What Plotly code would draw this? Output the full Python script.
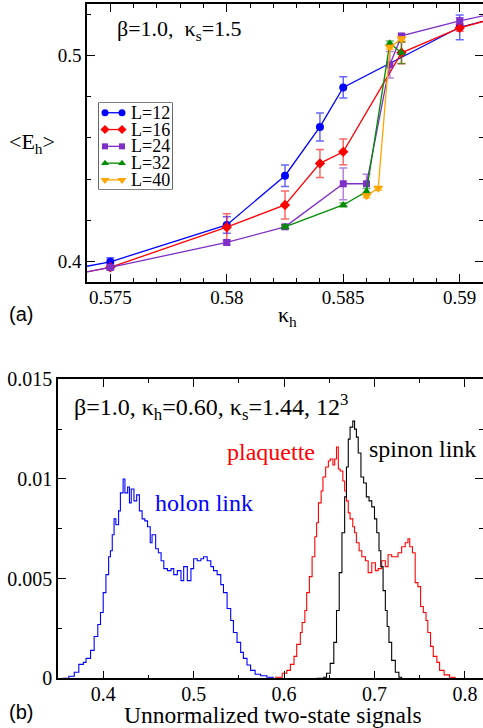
import plotly.graph_objects as go

W, H = 483, 728

# ---------------- panel (a) data ----------------
kappa_12 = [0.570, 0.575, 0.580, 0.5825, 0.584, 0.585, 0.590, 0.595]
E_12 = [0.389, 0.3998, 0.4177, 0.4416, 0.4653, 0.4845, 0.5137, 0.528]
err_12 = [0.001, 0.002, 0.004, 0.0052, 0.0068, 0.0052, 0.006, 0.002]

kappa_16 = [0.570, 0.575, 0.580, 0.5825, 0.584, 0.585, 0.5875, 0.590, 0.595]
E_16 = [0.386, 0.3971, 0.4166, 0.4274, 0.4476, 0.4532, 0.5013, 0.5134, 0.529]
err_16 = [0.001, 0.001, 0.0066, 0.0068, 0.0068, 0.0063, 0.0053, 0.0016, 0.002]

kappa_24 = [0.570, 0.575, 0.580, 0.5825, 0.585, 0.586, 0.587, 0.5875, 0.590, 0.595]
E_24 = [0.386, 0.3971, 0.4092, 0.4168, 0.4377, 0.4377, 0.4955, 0.5095, 0.5168, 0.529]
err_24 = [0.001, 0.0012, 0.0012, 0.001, 0.0077, 0.0046, 0.0064, 0.001, 0.0015, 0.001]

kappa_32 = [0.5825, 0.585, 0.586, 0.587, 0.5875]
E_32 = [0.4168, 0.4274, 0.4339, 0.506, 0.5013]
err_32 = [0.001, 0.001, 0.0015, 0.001, 0.0052]

kappa_40 = [0.586, 0.5865, 0.587, 0.5875]
E_40 = [0.4319, 0.4355, 0.504, 0.5081]
err_40 = [0.001, 0.001, 0.001, 0.001]

legend_labels = ["L=12", "L=16", "L=24", "L=32", "L=40"]

# ---------------- panel (b) data ----------------
holon_x = [0.355, 0.362, 0.368, 0.373, 0.378, 0.381, 0.386, 0.390, 0.394, 0.397,
           0.400, 0.403, 0.406, 0.408, 0.410, 0.412, 0.414, 0.417, 0.419, 0.422,
           0.424, 0.427, 0.429, 0.431, 0.434, 0.437, 0.440, 0.443, 0.446, 0.449,
           0.452, 0.454, 0.458, 0.461, 0.464, 0.467, 0.471, 0.475, 0.478, 0.482,
           0.486, 0.489, 0.493, 0.497, 0.500, 0.504, 0.508, 0.511, 0.515, 0.519,
           0.522, 0.526, 0.530, 0.533, 0.537, 0.541, 0.544, 0.548, 0.552, 0.555,
           0.559, 0.563, 0.568, 0.574, 0.581, 0.588]
holon_y = [0.0, 0.0001, 0.0003, 0.0007, 0.0008, 0.0010, 0.0014, 0.0021, 0.0027, 0.0033,
           0.0043, 0.0052, 0.0061, 0.0064, 0.0072, 0.0080, 0.0077, 0.0084, 0.0093, 0.0100,
           0.0093, 0.0096, 0.0088, 0.0095, 0.0089, 0.0092, 0.0084, 0.0080, 0.0079, 0.0076,
           0.0068, 0.0072, 0.0065, 0.0063, 0.0059, 0.0055, 0.0054, 0.0055, 0.0052, 0.0054,
           0.0049, 0.0056, 0.0049, 0.0055, 0.0060, 0.0059, 0.0060, 0.0061, 0.0059, 0.0056,
           0.0054, 0.0052, 0.0047, 0.0043, 0.0035, 0.0029, 0.0023, 0.0018, 0.0013, 0.0010,
           0.00067, 0.0004, 0.0002, 0.00013, 0.00005, 0.0]

plaq_x = [0.590, 0.598, 0.603, 0.607, 0.611, 0.614, 0.618, 0.620, 0.623, 0.625,
          0.628, 0.631, 0.634, 0.636, 0.638, 0.641, 0.643, 0.646, 0.649, 0.651,
          0.654, 0.656, 0.658, 0.660, 0.662, 0.665, 0.667, 0.669, 0.671, 0.673,
          0.676, 0.678, 0.680, 0.683, 0.686, 0.690, 0.693, 0.697, 0.701, 0.704,
          0.708, 0.712, 0.715, 0.719, 0.723, 0.726, 0.730, 0.734, 0.737, 0.739,
          0.742, 0.745, 0.748, 0.751, 0.754, 0.757, 0.759, 0.762, 0.765, 0.769,
          0.772, 0.777, 0.783, 0.789]
plaq_y = [0.00005, 0.00025, 0.0004, 0.0007, 0.0011, 0.0017, 0.0023, 0.0028, 0.0034, 0.0043,
          0.0051, 0.0061, 0.0071, 0.0078, 0.0088, 0.0094, 0.0101, 0.0106, 0.0109, 0.0110,
          0.0107, 0.0110, 0.0116, 0.0105, 0.0104, 0.0099, 0.0094, 0.0089, 0.0083, 0.0080,
          0.0076, 0.0073, 0.0068, 0.0064, 0.0061, 0.0059, 0.0053, 0.0058, 0.0054, 0.0055,
          0.0059, 0.0056, 0.0062, 0.0061, 0.0061, 0.0063, 0.0066, 0.0068, 0.0070, 0.0066,
          0.0063, 0.0048, 0.0046, 0.0036, 0.0033, 0.0029, 0.0023, 0.0016, 0.0011, 0.0008,
          0.0004, 0.00017, 0.00005, 0.0]

spinon_x = [0.636, 0.644, 0.647, 0.651, 0.655, 0.658, 0.661, 0.664, 0.667, 0.669,
            0.671, 0.673, 0.676, 0.678, 0.680, 0.682, 0.685, 0.688, 0.691, 0.694,
            0.697, 0.700, 0.7025, 0.705, 0.707, 0.7095, 0.712, 0.714, 0.716, 0.719,
            0.723, 0.727, 0.730]
spinon_y = [0.0, 0.00005, 0.00025, 0.00075, 0.0018, 0.0034, 0.0053, 0.0073, 0.0091, 0.0106,
            0.0120, 0.0126, 0.0129, 0.0125, 0.0121, 0.0113, 0.0101, 0.0098, 0.0091, 0.0089,
            0.0086, 0.0080, 0.0073, 0.0064, 0.0056, 0.0044, 0.0034, 0.0026, 0.0018, 0.0009,
            0.0003, 0.00005, 0.0]

SERIF = "Liberation Serif, Times New Roman, Tinos, Nimbus Roman, DejaVu Serif, serif"
SANS = "Liberation Sans, Arial, Helvetica, sans-serif"

def px(x):
    return x / W

def py(y):
    return 1 - y / H

fig = go.Figure()

series = [
    (kappa_12, E_12, err_12, "#0000ff", "rgba(0,0,255,0.6)", "circle", 8),
    (kappa_16, E_16, err_16, "#ff0000", "rgba(255,0,0,0.6)", "diamond", 8),
    (kappa_24, E_24, err_24, "#7f2fc8", "rgba(127,47,200,0.6)", "square", 7),
    (kappa_32, E_32, err_32, "#008b00", "rgba(0,139,0,0.6)", "triangle-up", 8),
    (kappa_40, E_40, err_40, "#ffa500", "rgba(255,165,0,0.7)", "triangle-down", 9),
]
for (xs, ys, es, col, ecol, sym, sz), name in zip(series, legend_labels):
    fig.add_trace(go.Scatter(
        x=xs, y=ys, name=name, mode="lines+markers",
        line=dict(color=col, width=1.3),
        marker=dict(color=col, symbol=sym, size=sz),
        error_y=dict(type="data", array=es, visible=True, color=ecol, thickness=1.5, width=4),
        xaxis="x", yaxis="y", showlegend=False,
    ))

# Grace-style legend box (sample line with a marker at both ends)
for i, ((xs, ys, es, col, ecol, sym, sz), name) in enumerate(zip(series, legend_labels)):
    fig.add_trace(go.Scatter(
        x=[6, 23], y=[i + 1, i + 1], mode="lines+markers",
        line=dict(color=col, width=1.3),
        marker=dict(color=col, symbol=sym, size=sz - 1),
        xaxis="x3", yaxis="y3", showlegend=False, hoverinfo="skip",
    ))

for xs, ys, col in [(holon_x, holon_y, "#0000ff"), (plaq_x, plaq_y, "#ff0000"), (spinon_x, spinon_y, "#000000")]:
    fig.add_trace(go.Scatter(
        x=xs, y=ys, mode="lines", line=dict(color=col, width=1.1, shape="hv"),
        showlegend=False, xaxis="x2", yaxis="y2",
    ))

axis_common = dict(
    showline=True, linecolor="black", linewidth=1.5, mirror="allticks",
    ticks="inside", ticklen=8, tickwidth=1, tickcolor="black",
    showgrid=False, zeroline=False,
)
hidden = dict(visible=False, showgrid=False, zeroline=False, fixedrange=True)

fig.update_layout(
    width=W, height=H,
    margin=dict(l=0, r=0, t=0, b=0, autoexpand=False),
    paper_bgcolor="white", plot_bgcolor="white",
    showlegend=False,
    xaxis=dict(domain=[px(87), 1], range=[0.574, 0.591], tickmode="linear", tick0=0.575, dtick=0.005,
               minor=dict(dtick=0.001, ticklen=4, ticks="inside", tickcolor="black"),
               tickfont=dict(family=SERIF, size=19, color="black"), anchor="y",
               ticklabelstandoff=-3, **axis_common),
    yaxis=dict(domain=[py(282), py(4)], range=[0.39, 0.525], tickmode="linear", tick0=0.4, dtick=0.1,
               minor=dict(dtick=0.02, ticklen=4, ticks="inside", tickcolor="black"),
               tickfont=dict(family=SERIF, size=19, color="black"), anchor="x", **axis_common),
    xaxis2=dict(domain=[px(58), 1], range=[0.35, 0.82], tickmode="linear", tick0=0.4, dtick=0.1,
                minor=dict(dtick=0.05, ticklen=4, ticks="inside", tickcolor="black"),
                tickfont=dict(family=SERIF, size=20, color="black"), anchor="y2",
                ticklabelstandoff=-3, **axis_common),
    yaxis2=dict(domain=[py(678.3), py(379.3)], range=[0, 0.015], tickmode="linear", tick0=0, dtick=0.005,
                minor=dict(dtick=0.0025, ticklen=4, ticks="inside", tickcolor="black"),
                tickfont=dict(family=SERIF, size=20, color="black"), anchor="x2", **axis_common),
    xaxis3=dict(domain=[px(99), px(172)], range=[0, 73], anchor="y3", **hidden),
    yaxis3=dict(domain=[py(189), py(103)], range=[5.54, 0.42], anchor="x3", **hidden),
)

fig.add_shape(type="rect", xref="x3 domain", yref="y3 domain", x0=0, x1=1, y0=0, y1=1,
              line=dict(color="black", width=1.2), fillcolor="white", layer="below")

annots = []
for i, name in enumerate(legend_labels):
    annots.append(dict(x=30, y=i + 1, xref="x3", yref="y3", text=name, xanchor="left", yanchor="middle",
                       font=dict(family=SERIF, size=18, color="black"), showarrow=False))

paper_annots = [
    dict(x=px(115), y=py(30), text="β=1.0,  κ<sub>s</sub>=1.5", xanchor="left", yanchor="middle",
         font=dict(family=SERIF, size=22, color="black")),
    dict(x=px(32), y=py(143), text="<E<sub>h</sub>>", xanchor="center", yanchor="middle",
         font=dict(family=SERIF, size=22, color="black")),
    dict(x=px(287), y=py(316), text="κ<sub>h</sub>", xanchor="center", yanchor="middle",
         font=dict(family=SERIF, size=22, color="black")),
    dict(x=px(7), y=py(314), text="(a)", xanchor="left", yanchor="middle",
         font=dict(family=SANS, size=20, color="black")),
    dict(x=px(72), y=py(407), text="β=1.0, κ<sub>h</sub>=0.60, κ<sub>s</sub>=1.44, 12<sup>3</sup>",
         xanchor="left", yanchor="middle", font=dict(family=SERIF, size=24, color="black")),
    dict(x=px(271), y=py(452), text="plaquette", xanchor="center", yanchor="middle",
         font=dict(family=SERIF, size=24, color="#ff0000")),
    dict(x=px(422.5), y=py(449), text="spinon link", xanchor="center", yanchor="middle",
         font=dict(family=SERIF, size=24, color="black")),
    dict(x=px(203.5), y=py(503), text="holon link", xanchor="center", yanchor="middle",
         font=dict(family=SERIF, size=24, color="#0000ff")),
    dict(x=px(272.5), y=py(715), text="Unnormalized two-state signals", xanchor="center", yanchor="middle",
         font=dict(family=SERIF, size=23.5, color="black")),
    dict(x=px(7), y=py(712), text="(b)", xanchor="left", yanchor="middle",
         font=dict(family=SANS, size=20, color="black")),
]
for a in paper_annots:
    a.update(xref="paper", yref="paper", showarrow=False)
    annots.append(a)
fig.update_layout(annotations=annots)

fig.write_html("out.html")
